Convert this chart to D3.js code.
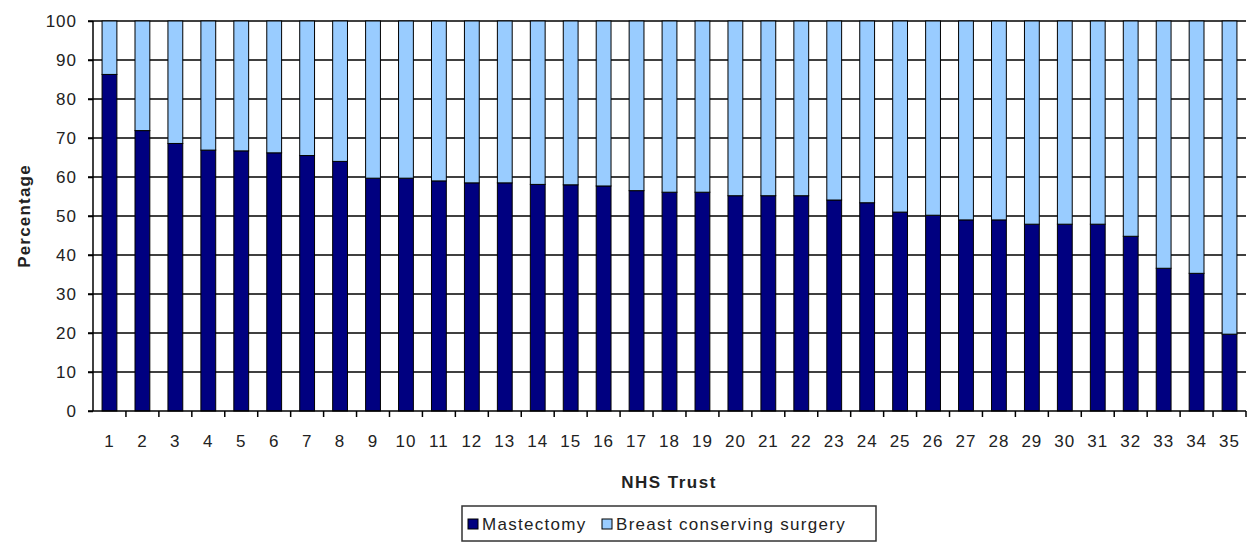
<!DOCTYPE html>
<html>
<head>
<meta charset="utf-8">
<script src="https://cdn.jsdelivr.net/npm/d3@7"></script>
<style>
  body { margin: 0; background: #fff; }
  text { font-family: "Liberation Sans", Arial, sans-serif; }
</style>
</head>
<body>
<div id="chart"></div>
<script>
// data
var trusts = d3.range(1, 36).map(String);
var mastectomy = [86.3, 71.9, 68.6, 66.9, 66.7, 66.2, 65.5, 64.0, 59.7, 59.7,
                  59.0, 58.5, 58.5, 58.1, 58.0, 57.7, 56.5, 56.1, 56.1, 55.2,
                  55.2, 55.2, 54.1, 53.4, 51.0, 50.2, 49.0, 49.0, 47.9, 47.9,
                  47.9, 44.8, 36.6, 35.3, 19.7];
var yTicks = d3.range(0, 101, 10);
var seriesNames = ["Mastectomy", "Breast conserving surgery"];
var colors = ["#000080", "#99ccff"];

var svgWidth = 1251;
var svgHeight = 544;

var margin = { top: 21, right: 5, bottom: 133, left: 93 };
var width = svgWidth - margin.left - margin.right;
var height = svgHeight - margin.top - margin.bottom;

var svg = d3.select("#chart")
  .append("svg")
  .attr("width", svgWidth)
  .attr("height", svgHeight);

var chartGroup = svg.append("g")
  .attr("transform", `translate(${margin.left}, ${margin.top})`);

var rows = trusts.map(function(t, i) {
  return { trust: t, mast: mastectomy[i], bcs: 100 - mastectomy[i] };
});

var stack = d3.stack().keys(["mast", "bcs"]);
var layers = stack(rows);

//scales
var xScale = d3.scaleBand()
  .domain(trusts)
  .range([0, width])
  .paddingInner(0.55)
  .paddingOuter(0.275);

var yScale = d3.scaleLinear()
  .domain([0, 100])
  .range([height, 0]);

//gridlines
chartGroup.append("g")
  .selectAll("line")
  .data(yTicks.slice(1))
  .enter()
  .append("line")
  .attr("x1", -5)
  .attr("x2", width)
  .attr("y1", d => yScale(d))
  .attr("y2", d => yScale(d))
  .attr("stroke", "#000")
  .attr("stroke-width", 1.5);

//bars
chartGroup.selectAll("g.layer")
  .data(layers)
  .enter()
  .append("g")
  .attr("class", "layer")
  .attr("fill", (d, i) => colors[i])
  .selectAll("rect")
  .data(d => d)
  .enter()
  .append("rect")
  .attr("x", d => xScale(d.data.trust))
  .attr("y", d => yScale(d[1]))
  .attr("width", xScale.bandwidth())
  .attr("height", d => yScale(d[0]) - yScale(d[1]))
  .attr("stroke", "#000")
  .attr("stroke-width", 1);

//y axis
var yAxis = d3.axisLeft(yScale)
  .tickValues(yTicks)
  .tickSize(5)
  .tickPadding(11);

var yAxisG = chartGroup.append("g").call(yAxis);
yAxisG.select(".domain").attr("stroke-width", 1.5).attr("d", `M0,0V${height}`);
yAxisG.selectAll(".tick line").attr("stroke-width", 1.5);
yAxisG.selectAll("text")
  .style("font-size", "17px")
  .style("letter-spacing", "1px")
  .attr("fill", "#222");

//x axis
var xAxis = d3.axisBottom(xScale)
  .tickSize(0)
  .tickPadding(24);

var xAxisG = chartGroup.append("g")
  .attr("transform", `translate(0, ${height})`)
  .call(xAxis);
xAxisG.select(".domain").attr("stroke-width", 1.5).attr("d", `M-5,0H${width}`);
xAxisG.selectAll("text")
  .style("font-size", "17px")
  .style("letter-spacing", "1px")
  .attr("fill", "#222");

//ticks between categories
var step = xScale.step();
xAxisG.selectAll("line.sep")
  .data(trusts)
  .enter()
  .append("line")
  .attr("class", "sep")
  .attr("x1", d => xScale(d) + xScale.bandwidth() / 2 + step / 2)
  .attr("x2", d => xScale(d) + xScale.bandwidth() / 2 + step / 2)
  .attr("y1", 0)
  .attr("y2", 6)
  .attr("stroke", "#000")
  .attr("stroke-width", 1.5);

//axis labels
svg.append("text")
  .attr("transform", `translate(30, ${margin.top + height / 2}) rotate(-90)`)
  .attr("text-anchor", "middle")
  .style("font-size", "17px")
  .style("font-weight", "bold")
  .style("letter-spacing", "1.2px")
  .attr("fill", "#222")
  .text("Percentage");

svg.append("text")
  .attr("x", 669)
  .attr("y", 488)
  .attr("text-anchor", "middle")
  .style("font-size", "17px")
  .style("font-weight", "bold")
  .style("letter-spacing", "1.5px")
  .attr("fill", "#222")
  .text("NHS Trust");

//legend
var legend = svg.append("g").attr("transform", "translate(462, 506)");
legend.append("rect")
  .attr("width", 414)
  .attr("height", 35)
  .attr("fill", "#fff")
  .attr("stroke", "#333")
  .attr("stroke-width", 1.5);

var legendX = [6, 140];
seriesNames.forEach(function(name, i) {
  var item = legend.append("g").attr("transform", `translate(${legendX[i]}, 0)`);
  item.append("rect")
    .attr("x", 0)
    .attr("y", 13)
    .attr("width", 10)
    .attr("height", 10)
    .attr("fill", colors[i])
    .attr("stroke", "#000")
    .attr("stroke-width", 1);
  item.append("text")
    .attr("x", 14)
    .attr("y", 24)
    .style("font-size", "17px")
    .style("letter-spacing", "1.3px")
    .attr("fill", "#222")
    .text(name);
});
</script>
</body>
</html>
